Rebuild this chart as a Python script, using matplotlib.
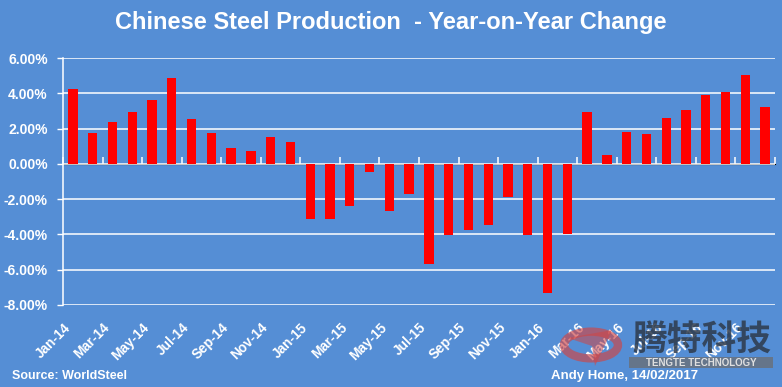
import numpy as np
import matplotlib.pyplot as plt
from matplotlib.patches import Circle, Rectangle, Polygon

months = ['Jan', 'Feb', 'Mar', 'Apr', 'May', 'Jun',
          'Jul', 'Aug', 'Sep', 'Oct', 'Nov', 'Dec']
years = ['14', '15', '16']
labels = [m + '-' + y for y in years for m in months]

# year-on-year change, %
yoy = [4.25, 1.73, 2.40, 2.93, 3.64, 4.88, 2.57, 1.75, 0.91, 0.74, 1.50, 1.22,
       -3.14, -3.14, -2.38, -0.44, -2.68, -1.71, -5.66, -4.06, -3.77, -3.49, -1.89, -4.06,
       -7.30, -3.96, 2.93, 0.50, 1.81, 1.68, 2.61, 3.03, 3.92, 4.06, 5.05, 3.22]

bg = '#558ED5'
sans = ['Liberation Sans', 'DejaVu Sans']

fig = plt.figure(figsize=(7.82, 3.87), dpi=100, facecolor=bg)
ax = fig.add_axes([63 / 782, 1 - 305 / 387, 712 / 782, 247 / 387])
ax.set_facecolor(bg)

x = np.arange(len(yoy))
ax.bar(x, yoy, width=0.47, color='#FF0000', zorder=3)

ax.set_xlim(-0.5, len(yoy) - 0.5)
ax.set_ylim(-8, 6)
yt = np.arange(-8, 7, 2)
ax.set_yticks(yt)
ax.set_yticklabels(['%.2f%%' % v for v in yt],
                   color='white', fontweight='bold', fontsize=10, family=sans)
ax.tick_params(axis='y', length=4, width=1, color='white', pad=7)
ax.grid(axis='y', color='white', linewidth=1.1, zorder=1)

for s in ['top', 'right', 'bottom']:
    ax.spines[s].set_visible(False)
ax.spines['left'].set_color('white')
ax.spines['left'].set_linewidth(1.1)

# category labels at the bottom, every second month
ax.set_xticks(x[::2])
ax.set_xticklabels(labels[::2], rotation=45, ha='right', va='top',
                   color='white', fontweight='bold', fontsize=9.8, family=sans)
ax.tick_params(axis='x', length=0, pad=11)

# zero line with tick marks
zero = ax.secondary_xaxis(8 / 14)
zero.set_xticks(np.arange(-0.5, len(yoy), 2))
zero.set_xticklabels([])
zero.tick_params(axis='x', length=5, color='white', width=1.1)
zero.spines['bottom'].set_color('white')
zero.spines['bottom'].set_linewidth(1.1)

fig.text(0.5, 1 - 22 / 387, 'Chinese Steel Production  - Year-on-Year Change',
         ha='center', va='center', color='white', fontsize=17, fontweight='bold', family=sans)
fig.text(12 / 782, 1 - 376 / 387, 'Source: WorldSteel', ha='left', va='center',
         color='white', fontsize=9, fontweight='bold', family=sans)
fig.text(551 / 782, 1 - 376 / 387, 'Andy Home, 14/02/2017', ha='left', va='center',
         color='white', fontsize=9.5, fontweight='bold', family=sans)

# watermark
fig.patches.append(Circle((591 / 782, 1 - 345 / 387), 27 / 782, transform=fig.transFigure,
                          fill=False, edgecolor='#D04545', linewidth=6, alpha=0.65))
fig.patches.append(Polygon([(568 / 782, 1 - 338 / 387), (612 / 782, 1 - 330 / 387),
                            (595 / 782, 1 - 366 / 387), (592 / 782, 1 - 346 / 387)],
                           closed=True, transform=fig.transFigure,
                           facecolor='#D04545', edgecolor='none', alpha=0.55))
fig.text(702 / 782, 1 - 340 / 387, '腾特科技', ha='center', va='center', color='#2E3A4A',
         fontsize=25, fontweight='bold', alpha=0.85, family=['Noto Sans CJK SC', 'DejaVu Sans'])
fig.patches.append(Rectangle((629 / 782, 1 - 368 / 387), 144 / 782, 11 / 387, transform=fig.transFigure,
                             facecolor='#6A6F78', edgecolor='none', alpha=0.8))
fig.text(701 / 782, 1 - 362.5 / 387, 'TENGTE TECHNOLOGY', ha='center', va='center', color='#E0E0E0',
         fontsize=7, fontweight='bold', family=sans)

fig.savefig('out.png', dpi=100, facecolor=bg)
